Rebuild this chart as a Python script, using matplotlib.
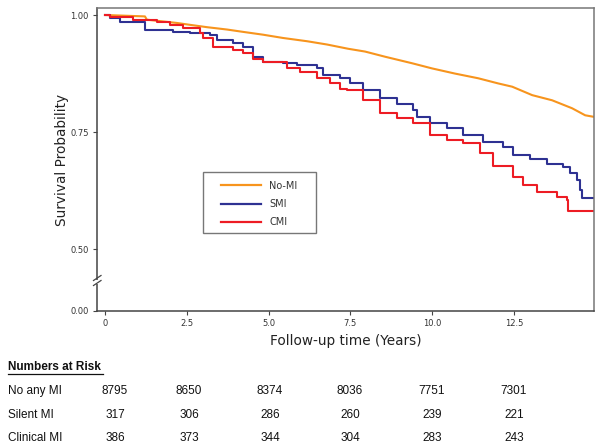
import numpy as np
import matplotlib
matplotlib.use("Agg")
import matplotlib.pyplot as plt
from matplotlib.patches import Rectangle
from matplotlib.lines import Line2D

# ---------------- data ----------------
nomi_t = [0, 1.22, 1.28, 1.68, 2.20, 2.60, 3.12, 3.73, 4.22, 4.83, 5.44, 6.18, 6.79, 7.43,
          7.95, 8.56, 9.39, 10.0, 10.70, 11.41, 12.02, 12.45, 13.06, 13.67, 14.28, 14.68, 14.92]
nomi_s = [1.0, 0.997, 0.990, 0.987, 0.983, 0.979, 0.974, 0.969, 0.964, 0.958, 0.951, 0.944, 0.937, 0.928,
          0.922, 0.911, 0.897, 0.886, 0.875, 0.865, 0.854, 0.847, 0.829, 0.818, 0.801, 0.786, 0.783]

smi_t = [0, 0.15, 0.46, 1.22, 2.08, 2.60, 3.21, 3.43, 3.91, 4.22, 4.53, 4.83, 5.44, 5.87, 6.48,
         6.67, 7.19, 7.49, 7.89, 8.41, 8.93, 9.42, 9.54, 9.94, 10.46, 10.95, 11.56, 12.17, 12.48,
         13.0, 13.52, 14.0, 14.22, 14.43, 14.53, 14.59, 14.92]
smi_s = [1.0, 0.993, 0.986, 0.969, 0.964, 0.961, 0.957, 0.947, 0.941, 0.932, 0.911, 0.900, 0.897, 0.893, 0.886,
         0.872, 0.865, 0.854, 0.840, 0.822, 0.811, 0.797, 0.783, 0.769, 0.758, 0.744, 0.729, 0.719, 0.701,
         0.692, 0.683, 0.676, 0.662, 0.647, 0.626, 0.609, 0.609]

cmi_t = [0, 0.15, 0.86, 1.59, 1.99, 2.39, 2.91, 3.0, 3.30, 3.91, 4.22, 4.53, 4.83, 5.57, 5.96,
         6.48, 6.88, 7.19, 7.40, 7.89, 8.41, 8.93, 9.42, 9.94, 10.46, 10.95, 11.47, 11.87, 12.48,
         12.78, 13.21, 13.82, 14.13, 14.16, 14.92]
cmi_s = [1.0, 0.996, 0.989, 0.986, 0.979, 0.972, 0.961, 0.950, 0.932, 0.925, 0.918, 0.907, 0.900, 0.886, 0.879,
         0.865, 0.854, 0.843, 0.840, 0.818, 0.791, 0.780, 0.769, 0.744, 0.733, 0.726, 0.705, 0.677, 0.654,
         0.637, 0.622, 0.611, 0.605, 0.582, 0.582]

series_labels = ["No-MI", "SMI", "CMI"]
risk_groups = ["No any MI", "Silent MI", "Clinical MI"]
risk_times = [0, 2.5, 5.0, 7.5, 10.0, 12.5]
risk_nomi = [8795, 8650, 8374, 8036, 7751, 7301]
risk_smi = [317, 306, 286, 260, 239, 221]
risk_cmi = [386, 373, 344, 304, 283, 243]

xticks = [0, 2.5, 5.0, 7.5, 10.0, 12.5]
xticklabels = ["0", "2.5", "5.0", "7.5", "10.0", "12.5"]
yticks = [0.0, 0.5, 0.75, 1.0]
yticklabels = ["0.00", "0.50", "0.75", "1.00"]

# ---------------- style ----------------
col_nomi = "#F7941D"
col_smi = "#2E3192"
col_cmi = "#ED1C24"
W, H = 602, 446

fig = plt.figure(figsize=(W / 100, H / 100), dpi=100)
ax = fig.add_axes([97 / W, 1 - 310.7 / H, (594 - 97) / W, (310.7 - 8.3) / H])

# broken y scale: 0..0.5 compressed
B0 = 0.369
def fwd(y):
    y = np.asarray(y, dtype=float)
    return np.where(y >= 0.5, y, B0 + y * (0.5 - B0) / 0.5)
def inv(u):
    u = np.asarray(u, dtype=float)
    return np.where(u >= 0.5, u, (u - B0) * 0.5 / (0.5 - B0))
ax.set_yscale("function", functions=(fwd, inv))

ax.plot(nomi_t, nomi_s, color=col_nomi, lw=1.5)
ax.plot(smi_t, smi_s, drawstyle="steps-post", color=col_smi, lw=1.5)
ax.plot(cmi_t, cmi_s, drawstyle="steps-post", color=col_cmi, lw=1.5)

ax.set_xlim(-0.245, 14.95)
ax.set_ylim(0, 1.0143)
ax.set_xticks(xticks)
ax.set_xticklabels(xticklabels)
ax.set_yticks(yticks)
ax.set_yticklabels(yticklabels)
ax.tick_params(axis="both", direction="out", length=3, width=0.8, colors="#444444",
               labelsize=6, labelcolor="#333333", pad=3)
for side in ["left", "bottom"]:
    ax.spines[side].set_color("#444444")
    ax.spines[side].set_linewidth(1.1)
for side in ["top", "right"]:
    ax.spines[side].set_color("#777777")
    ax.spines[side].set_linewidth(1.1)

ax.set_ylabel("Survival Probability", fontsize=9.8, color="#222222", labelpad=1)
ax.set_xlabel("Follow-up time (Years)", fontsize=9.8, color="#222222", labelpad=4)

# axis break marks
tr = fig.transFigure
fig.patches.append(Rectangle((95 / W, 1 - 283.5 / H), 5 / W, 4 / H, transform=tr,
                             facecolor="white", edgecolor="none", zorder=5))
for yc in (278, 283):
    fig.lines.append(Line2D([93.5 / W, 101 / W], [1 - (yc + 2.5) / H, 1 - (yc - 2.5) / H],
                            transform=tr, color="#444444", lw=0.9, zorder=6))

# legend: box plus frameless legend
fig.patches.append(Rectangle((203 / W, 1 - 233 / H), 113 / W, 61 / H, transform=tr,
                             facecolor="white", edgecolor="#777777", lw=1.0, zorder=4))
handles = [Line2D([], [], color=c, lw=1.6) for c in (col_nomi, col_smi, col_cmi)]
leg = fig.legend(handles, series_labels, loc="upper left",
                 bbox_to_anchor=(214 / W, 1 - 174 / H), bbox_transform=tr,
                 frameon=False, fontsize=7, handlelength=4.1, handletextpad=0.9,
                 labelspacing=0.85, borderpad=0.2)
leg.set_zorder(7)
for t in leg.get_texts():
    t.set_color("#333333")

# numbers at risk table
fs = 8.5
fam = "Liberation Sans"
fig.text(8 / W, 1 - 367 / H, "Numbers at Risk", fontsize=fs, fontweight="bold",
         family=fam, ha="left", va="center", color="#111111")
fig.lines.append(Line2D([8 / W, 103 / W], [1 - 373.5 / H, 1 - 373.5 / H], transform=tr,
                        color="#111111", lw=0.9))
row_y = [391, 415, 438]
col_x = [115, 189, 270, 350, 432, 514]
for yy, name, vals in zip(row_y, risk_groups, [risk_nomi, risk_smi, risk_cmi]):
    fig.text(8 / W, 1 - yy / H, name, fontsize=fs, family=fam, ha="left", va="center",
             color="#111111")
    for xx, v in zip(col_x, vals):
        fig.text(xx / W, 1 - yy / H, str(v), fontsize=fs, family=fam, ha="center",
                 va="center", color="#111111")

fig.savefig("out.png", dpi=100, facecolor="white")
